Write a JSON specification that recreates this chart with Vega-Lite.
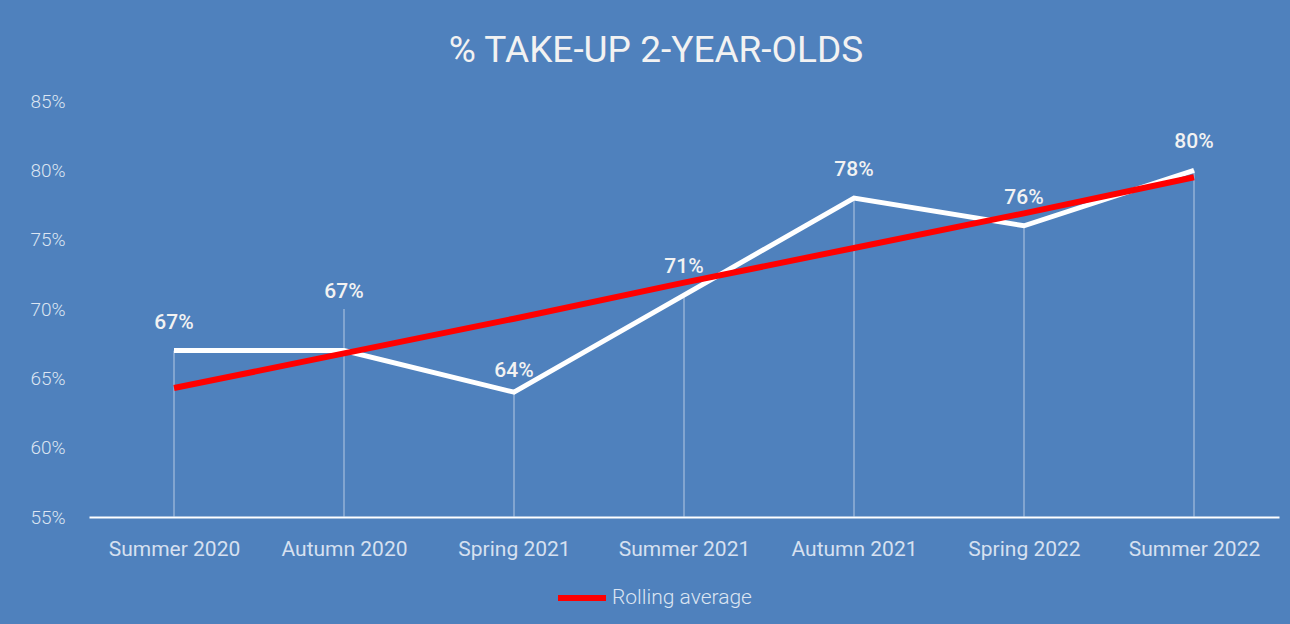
{
  "$schema": "https://vega.github.io/schema/vega-lite/v6.json",
  "width": 1190,
  "height": 416,
  "autosize": {"type": "none"},
  "padding": {"left": 89, "top": 101, "right": 11, "bottom": 107},
  "background": "#4F81BD",
  "config": {
    "view": {"stroke": null},
    "font": "Roboto"
  },
  "title": {
    "text": "% TAKE-UP 2-YEAR-OLDS",
    "fontSize": 37,
    "fontWeight": "normal",
    "font": "Roboto",
    "color": "#F2F2F2",
    "offset": 22,
    "dx": -28
  },
  "data": {
    "values": [
      {"term": "Summer 2020", "value": 0.67, "trend": 0.643},
      {"term": "Autumn 2020", "value": 0.67, "trend": 0.668},
      {"term": "Spring 2021", "value": 0.64, "trend": 0.693},
      {"term": "Summer 2021", "value": 0.71, "trend": 0.719},
      {"term": "Autumn 2021", "value": 0.78, "trend": 0.744},
      {"term": "Spring 2022", "value": 0.76, "trend": 0.769},
      {"term": "Summer 2022", "value": 0.80, "trend": 0.795}
    ]
  },
  "encoding": {
    "x": {
      "field": "term",
      "type": "ordinal",
      "sort": null,
      "scale": {"type": "point", "padding": 0.5},
      "axis": {
        "title": null,
        "labelAngle": 0,
        "labelFontSize": 21,
        "labelFont": "Roboto",
        "labelColor": "#D6E0F0",
        "labelPadding": 21,
        "ticks": false,
        "grid": false,
        "domainColor": "#FFFFFF",
        "domainWidth": 2
      }
    }
  },
  "layer": [
    {
      "mark": {"type": "rule", "color": "#D0DCEE", "strokeWidth": 1, "opacity": 0.8},
      "encoding": {
        "y": {
          "field": "value",
          "type": "quantitative",
          "scale": {"domain": [0.55, 0.85], "nice": false, "zero": false},
          "axis": {
            "title": null,
            "values": [0.55, 0.60, 0.65, 0.70, 0.75, 0.80, 0.85],
            "format": ".0%",
            "labelFontSize": 19,
            "labelFont": "Roboto",
            "labelFontWeight": 300,
            "labelColor": "#DCE5F2",
            "labelPadding": 24,
            "domain": false,
            "ticks": false,
            "grid": false
          }
        },
        "y2": {"datum": 0.55}
      }
    },
    {
      "transform": [{"filter": "datum.term === 'Autumn 2020'"}],
      "mark": {"type": "rule", "color": "#D0DCEE", "strokeWidth": 1, "opacity": 0.8},
      "encoding": {
        "y": {"datum": 0.672},
        "y2": {"datum": 0.70}
      }
    },
    {
      "mark": {"type": "line", "color": "#FFFFFF", "strokeWidth": 5},
      "encoding": {
        "y": {"field": "value", "type": "quantitative"}
      }
    },
    {
      "mark": {"type": "line", "strokeWidth": 6},
      "encoding": {
        "y": {"field": "trend", "type": "quantitative"},
        "color": {
          "datum": "Rolling average",
          "scale": {"range": ["#FF0000"]},
          "legend": {
            "title": null,
            "orient": "none",
            "legendX": 466,
            "legendY": 470,
            "symbolType": "stroke",
            "symbolSize": 2304,
            "symbolStrokeWidth": 6,
            "labelFontSize": 21,
            "labelFont": "Roboto",
            "labelFontWeight": 300,
            "labelColor": "#DCE5F2",
            "labelOffset": 3
          }
        }
      }
    },
    {
      "transform": [{"filter": "datum.term !== 'Autumn 2020' && datum.term !== 'Spring 2021'"}],
      "mark": {"type": "text", "dy": -28, "fontSize": 21, "fontWeight": 500, "color": "#F2F2F2", "font": "Roboto"},
      "encoding": {
        "y": {"field": "value", "type": "quantitative"},
        "text": {"field": "value", "type": "quantitative", "format": ".0%"}
      }
    },
    {
      "transform": [{"filter": "datum.term === 'Autumn 2020'"}],
      "mark": {"type": "text", "dy": -59, "fontSize": 21, "fontWeight": 500, "color": "#F2F2F2", "font": "Roboto"},
      "encoding": {
        "y": {"field": "value", "type": "quantitative"},
        "text": {"field": "value", "type": "quantitative", "format": ".0%"}
      }
    },
    {
      "transform": [{"filter": "datum.term === 'Spring 2021'"}],
      "mark": {"type": "text", "dy": -21, "fontSize": 21, "fontWeight": 500, "color": "#F2F2F2", "font": "Roboto"},
      "encoding": {
        "y": {"field": "value", "type": "quantitative"},
        "text": {"field": "value", "type": "quantitative", "format": ".0%"}
      }
    }
  ]
}
